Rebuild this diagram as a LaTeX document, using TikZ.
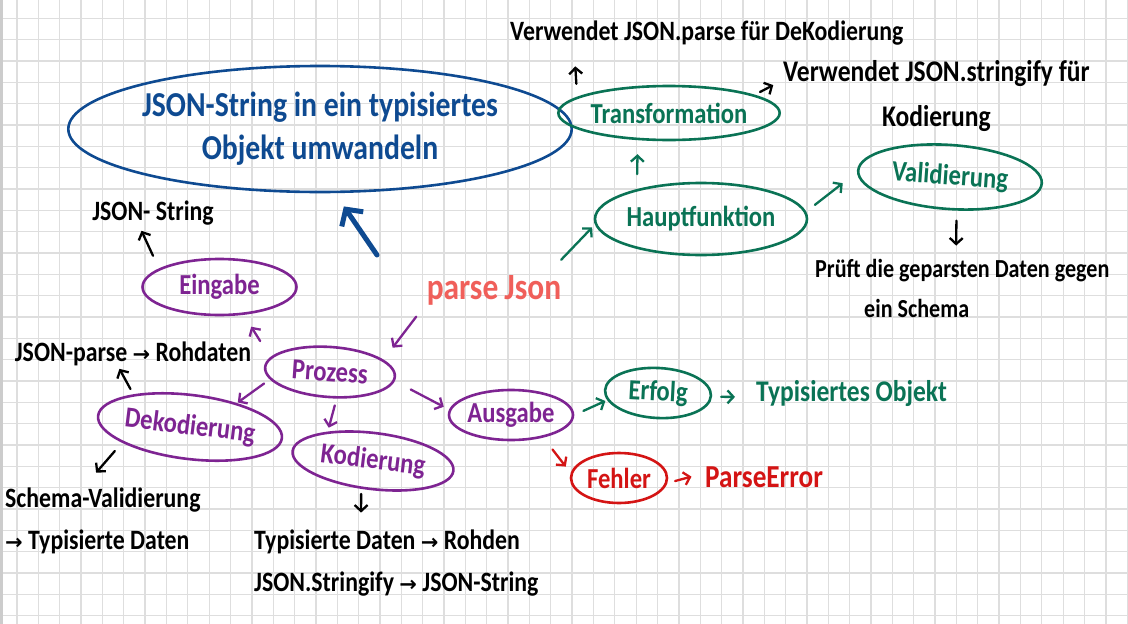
\documentclass[tikz,border=0pt]{standalone}
\usepackage{fontspec}
\setmainfont{Carlito}[FakeStretch=0.85]
\newfontfamily\arrowfont{DejaVu Sans}
\usetikzlibrary{arrows.meta, shapes.geometric}
\definecolor{inkblue}{RGB}{14,74,145}
\definecolor{purp}{RGB}{126,36,146}
\definecolor{mossgreen}{RGB}{10,115,85}
\definecolor{salmon}{RGB}{240,95,90}
\definecolor{inkred}{RGB}{212,20,20}
\definecolor{gridgray}{RGB}{222,222,222}
\newcommand{\pf}{{\arrowfont\bfseries\fontsize{21}{21}\selectfont →}}

\begin{document}
\begin{tikzpicture}[x=1pt, y=-1pt,
  bubble/.style={ellipse, draw, line width=2.6pt, inner sep=0pt, font=\bfseries\fontsize{29}{30}\selectfont},
  note/.style={inner sep=0pt, font=\bfseries\fontsize{28}{42}\selectfont},
  arr/.style={-{Straight Barb[length=6pt, width=13pt]}, line width=2.3pt, line cap=round},
  gitter/.style={line width=1.3pt, draw=gridgray}
]
\useasboundingbox (0,0) rectangle (1128,624);
\fill[white] (0,0) rectangle (1128,624);

% Karopapier
\foreach \k in {0,...,52}
  \draw[gitter] ({17+21.35*\k},0) -- ({17+21.35*\k},624);
\foreach \k in {0,...,28}
  \draw[gitter] (0,{18.3+21.33*\k}) -- (1128,{18.3+21.33*\k});
\fill[black!20] (0,0) rectangle (3,624);

% Ziel
\node[bubble, inkblue, minimum width=460pt, minimum height=126pt, align=center,
      font=\bfseries\fontsize{35}{43}\selectfont] (goal) at (320,129)
      {JSON-String in ein typisiertes\\Objekt umwandeln};
\node[salmon, font=\bfseries\fontsize{37}{40}\selectfont, inner sep=0pt] (parse) at (494,290) {parse\,Json};
\coordinate (zweck) at (377,255);

% Prozess-Zweig
\node[bubble, purp, minimum width=154pt, minimum height=56pt] (eingabe) at (219.5,287) {Eingabe};
\node[bubble, purp, minimum width=130pt, minimum height=50pt, rotate=-4] (prozess) at (330,372) {Prozess};
\node[bubble, purp, minimum width=176pt, minimum height=64pt, rotate=-7] (deko) at (190,427) {Dekodierung};
\node[bubble, purp, minimum width=162pt, minimum height=56pt, rotate=-7] (kodierung) at (373,461) {Kodierung};
\node[bubble, purp, minimum width=124pt, minimum height=50pt] (ausgabe) at (511,415) {Ausgabe};
\node[bubble, mossgreen, minimum width=106pt, minimum height=50pt, rotate=-3] (erfolg) at (658,393) {Erfolg};
\node[bubble, inkred, minimum width=96pt, minimum height=50pt] (fehler) at (619,478) {Fehler};

% Hauptfunktion-Zweig
\node[bubble, mossgreen, minimum width=212pt, minimum height=72pt] (haupt) at (701,219) {Hauptfunktion};
\node[bubble, mossgreen, minimum width=216pt, minimum height=54pt] (transf) at (669,113) {Transformation};
\node[bubble, mossgreen, minimum width=184pt, minimum height=64pt, rotate=-4] (valid) at (950,177) {Validierung};

% Notizen
\node[note] (tJsonStr) at (153,213) {JSON- String};
\node[note] (tParseRoh) at (133,354) {JSON-parse \pf{} Rohdaten};
\node[note, anchor=west, align=left] (tSchema) at (5,521) {Schema-Validierung\\\pf{} Typisierte Daten};
\node[note, anchor=west, align=left] (tKodText) at (254,563) {Typisierte Daten \pf{} Rohden\\JSON.Stringify \pf{} JSON-String};
\node[note, anchor=west] (tParseDe) at (510,33) {Verwendet JSON.parse für DeKodierung};
\node[note, anchor=west, align=center, font=\bfseries\fontsize{30}{45}\selectfont] (tStringify) at (783,96) {Verwendet JSON.stringify für\\Kodierung};
\node[note, anchor=west, align=left, font=\bfseries\fontsize{26}{40}\selectfont] (tPruef) at (815,288) {Prüft die geparsten Daten gegen\\\hspace*{49pt}ein Schema};
\node[note, mossgreen, anchor=west, font=\bfseries\fontsize{30}{30}\selectfont] (tErfolg) at (756,394) {Typisiertes Objekt};
\node[note, inkred, anchor=west, font=\bfseries\fontsize{32}{32}\selectfont] (tFehler) at (705,477) {ParseError};

% Pfeile
\draw[inkblue, line width=5pt, line cap=round, -{Straight Barb[length=12pt, width=26pt]}, shorten >=16pt] (zweck) -- (goal.-77);
\draw[arr, purp, shorten <=17pt, shorten >=15pt] (parse.191) -- (prozess.17);
\draw[arr, mossgreen, shorten <=21pt, shorten >=4pt] (parse.16) -- (haupt.183);

\draw[arr, purp, shorten <=19pt, shorten >=14pt] (prozess.170) -- (eingabe.-49);
\draw[arr, purp, shorten <=7pt, shorten >=1pt] (prozess.191) -- (deko.34);
\draw[arr, purp, shorten <=7pt, shorten >=4pt] (prozess.-72) -- (kodierung.154);
\draw[arr, purp, shorten <=18pt, shorten >=6pt] (prozess.-4) -- (ausgabe.175);
\draw[arr, shorten <=14pt, shorten >=6pt] (eingabe.163) -- ([xshift=-14pt]tJsonStr.south);
\draw[arr, shorten <=6pt, shorten >=3pt] (deko.157) -- ([xshift=-15pt]tParseRoh.south);
\draw[arr, shorten <=11pt, shorten >=20pt] (deko.200) -- ([xshift=78pt]tSchema.north west);
\draw[arr, shorten <=5pt, shorten >=17pt] (kodierung.-106) -- ([xshift=107pt]tKodText.north west);
\draw[arr, mossgreen, shorten <=10pt, shorten >=2pt] (ausgabe.0) -- (erfolg.191);
\draw[arr, mossgreen, shorten <=9pt, shorten >=21pt] (erfolg.-1) -- ([yshift=-3pt]tErfolg.west);
\draw[arr, inkred, shorten <=15pt, shorten >=8pt] (ausgabe.-35) -- (fehler.174);
\draw[arr, inkred, shorten <=8pt, shorten >=14pt] (fehler.-6) -- ([yshift=4pt]tFehler.west);

\draw[arr, mossgreen, shorten <=15pt, shorten >=14pt] (haupt.155) -- (transf.221);
\draw[arr, mossgreen, shorten <=11pt, shorten >=18pt] (haupt.4) -- (valid.181);
\draw[arr, shorten <=13pt, shorten >=21pt] (transf.170) -- ([xshift=64pt]tParseDe.south west);
\draw[arr, shorten <=6pt, shorten >=11pt] (transf.12) -- ([yshift=16pt]tStringify.west);
\draw[arr, shorten <=10pt, shorten >=13pt] (valid.-75) -- ([xshift=141pt]tPruef.north west);
\end{tikzpicture}
\end{document}
